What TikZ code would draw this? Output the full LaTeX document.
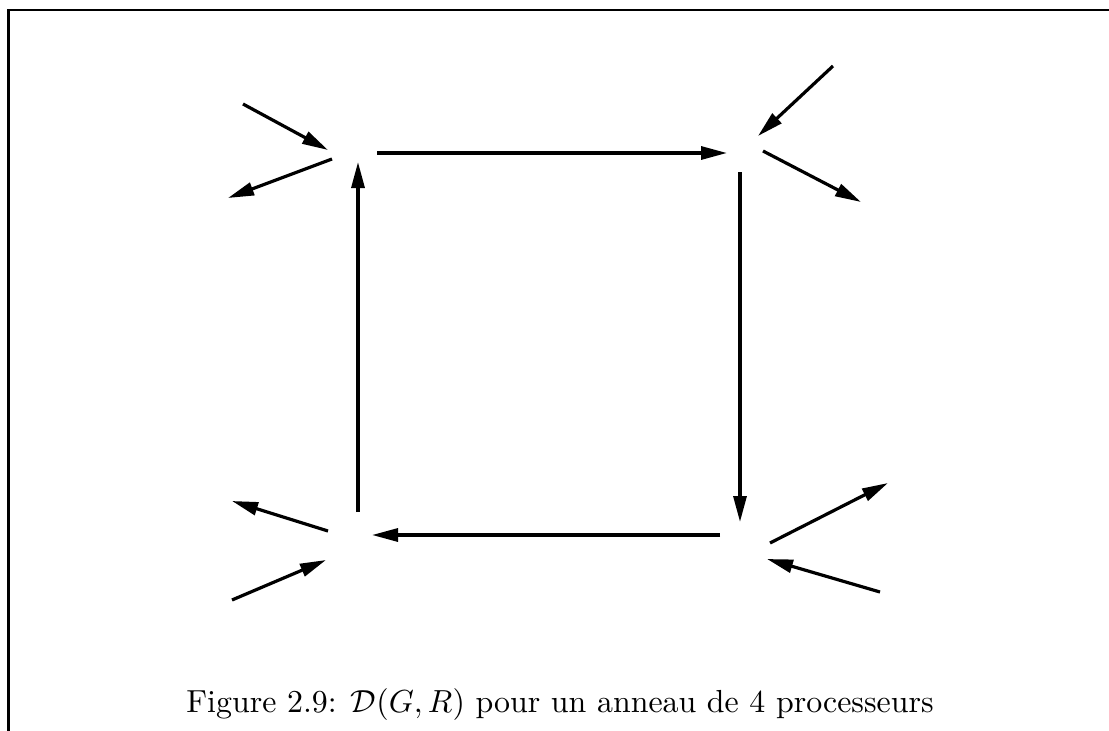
\documentclass[tikz,border=0pt]{standalone}
\usetikzlibrary{arrows.meta}
\begin{document}
\begin{tikzpicture}[x=1pt,y=-1pt,
  link/.style={line width=3.2pt,-{Triangle[length=26pt,width=13pt]}},
  frameline/.style={line width=2.8pt},
  captext/.style={anchor=base,inner sep=0pt}]
\useasboundingbox (0,0) rectangle (1109,731);
% frame
\coordinate (fb) at (8.5,740);
\coordinate (fc) at (8.5,10);
\coordinate (fr) at (1120,10);
\draw[frameline] (fb) -- (fc) -- (fr);
% square
\coordinate (t1) at (377,153); \coordinate (t2) at (727,153);
\coordinate (r1) at (740,172); \coordinate (r2) at (740,522);
\coordinate (b1) at (720,535); \coordinate (b2) at (372,535);
\coordinate (l1) at (358,512); \coordinate (l2) at (358,162);
\draw[link] (t1) -- (t2);
\draw[link] (r1) -- (r2);
\draw[link] (b1) -- (b2);
\draw[link] (l1) -- (l2);
% top-left
\coordinate (a1s) at (243,104); \coordinate (a1e) at (328,150);
\coordinate (a2s) at (332,159); \coordinate (a2e) at (228,198);
\draw[link] (a1s) -- (a1e);
\draw[link] (a2s) -- (a2e);
% top-right
\coordinate (b1s) at (833,66); \coordinate (b1e) at (758,136);
\coordinate (b2s) at (763,151); \coordinate (b2e) at (861,202);
\draw[link] (b1s) -- (b1e);
\draw[link] (b2s) -- (b2e);
% bottom-left
\coordinate (c1s) at (328,531); \coordinate (c1e) at (232,501);
\coordinate (c2s) at (232,600); \coordinate (c2e) at (326,560);
\draw[link] (c1s) -- (c1e);
\draw[link] (c2s) -- (c2e);
% bottom-right
\coordinate (d1s) at (770,543); \coordinate (d1e) at (888,483);
\coordinate (d2s) at (880,592); \coordinate (d2e) at (767,559);
\draw[link] (d1s) -- (d1e);
\draw[link] (d2s) -- (d2e);
% caption
\node[captext] (caption) at (560,712) {\scalebox{3.19}{Figure 2.9: $\mathcal{D}(G,R)$ pour un anneau de 4 processeurs}};
\end{tikzpicture}
\end{document}
